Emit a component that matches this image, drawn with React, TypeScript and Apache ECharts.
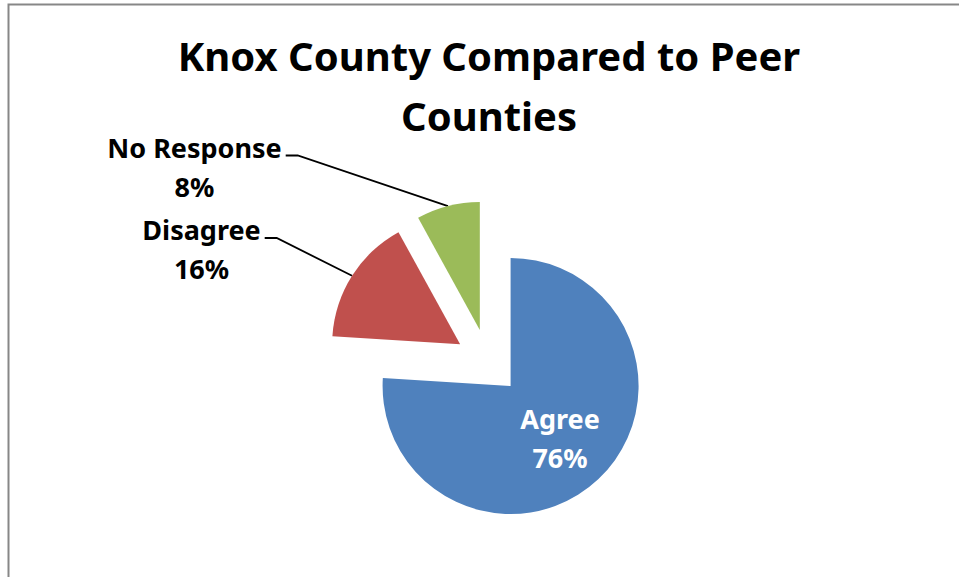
import React, { useEffect, useRef } from "react";
import * as echarts from "echarts";

// ---- data ----
const categories: string[] = ["Agree", "Disagree", "No Response"];
const values: number[] = [76, 16, 8];
const colors: string[] = ["#4F81BD", "#C0504D", "#9BBB59"];
const titleLines: string[] = ["Knox County Compared to Peer", "Counties"];

// ---- layout ----
const W = 959;
const H = 577;
const PIE_CENTER = [488, 362];
const PIE_RADIUS = 128;
const EXPLODE = 33;
const FONT = '"Noto Sans", "Open Sans", sans-serif';
const LABEL_POS: Record<string, number[]> = {
  Agree: [560, 437.5],
  Disagree: [201.5, 249],
  "No Response": [194.5, 166.5],
};

export default function App() {
  const ref = useRef<HTMLDivElement>(null);

  useEffect(() => {
    if (!ref.current) return;
    const chart = echarts.init(ref.current, undefined, { renderer: "svg" });
    const total = values.reduce((a, b) => a + b, 0);

    const series = values.map((v, i) => {
      const before = values.slice(0, i).reduce((a, b) => a + b, 0);
      const mid = ((before + v / 2) / total) * Math.PI * 2;
      const cx = PIE_CENTER[0] + EXPLODE * Math.sin(mid);
      const cy = PIE_CENTER[1] - EXPLODE * Math.cos(mid);
      const inside = i === 0;
      return {
        type: "pie",
        name: categories[i],
        center: [cx, cy],
        radius: PIE_RADIUS,
        startAngle: 90,
        clockwise: true,
        avoidLabelOverlap: false,
        silent: true,
        selectedMode: false,
        emphasis: { disabled: true },
        itemStyle: { borderWidth: 0 },
        data: categories.map((name, j) =>
          j === i
            ? {
                name,
                value: values[j],
                itemStyle: { color: colors[j], borderWidth: 0 },
                label: {
                  show: true,
                  position: inside ? "inside" : "outside",
                  formatter: (p: any) => `${p.name}\n${Math.round(p.percent)}%`,
                  color: inside ? "#ffffff" : "#000000",
                  fontFamily: FONT,
                  fontWeight: "bold",
                  fontSize: 27,
                  lineHeight: 39,
                  align: "center",
                  textBorderWidth: 0,
                },
                labelLine: {
                  show: !inside,
                  length: 20,
                  length2: 12,
                  lineStyle: { color: "#000000", width: 1.8 },
                },
              }
            : {
                name,
                value: values[j],
                itemStyle: { color: "transparent", opacity: 0, borderWidth: 0 },
                label: { show: false },
                labelLine: { show: false },
              }
        ),
        labelLayout: (params: any) => {
          if (params.dataIndex !== i) return {};
          const name = categories[params.dataIndex];
          const pos = LABEL_POS[name];
          if (!pos) return {};
          const res: any = { x: pos[0], y: pos[1], align: "center", verticalAlign: "middle" };
          const pts = params.labelLinePoints;
          if (name !== "Agree" && pts && pts[0]) {
            const right = pos[0] + params.labelRect.width / 2;
            const lineY = pos[1] - 11;
            res.labelLinePoints = [
              [pts[0][0], pts[0][1]],
              [right + 16, lineY],
              [right + 4, lineY],
            ];
          }
          return res;
        },
      };
    });

    chart.setOption({
      animation: false,
      backgroundColor: "#ffffff",
      graphic: [
        {
          type: "rect",
          shape: { x: 8.5, y: 4.5, width: 1400, height: 1400 },
          style: { fill: "none", stroke: "#878787", lineWidth: 2 },
          silent: true,
        },
        {
          type: "text",
          x: 489,
          y: 85.5,
          style: {
            text: titleLines.join("\n"),
            fill: "#000000",
            fontFamily: FONT,
            fontWeight: "bold",
            fontSize: 40,
            lineHeight: 60,
            align: "center",
            verticalAlign: "middle",
          },
          silent: true,
        },
      ],
      series,
    });

    return () => {
      chart.dispose();
    };
  }, []);

  return (
    <div
      ref={ref}
      style={{ position: "fixed", left: 0, top: 0, width: W, height: H, background: "#fff" }}
    />
  );
}
